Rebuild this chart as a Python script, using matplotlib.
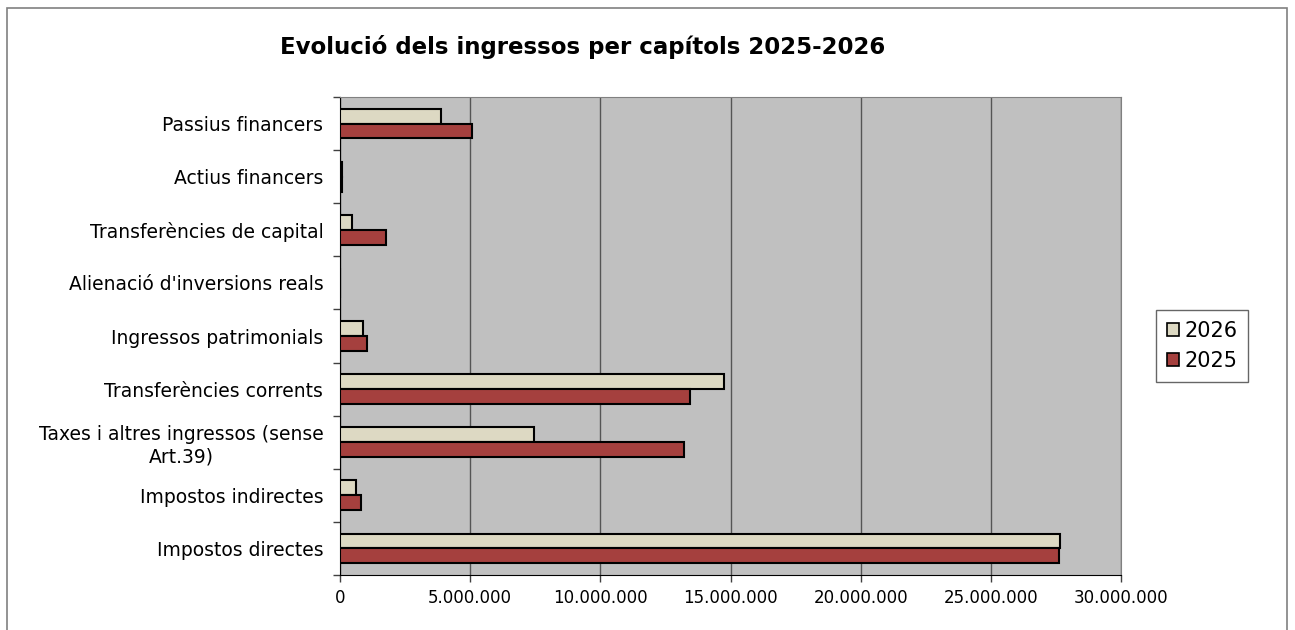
import numpy as np
import matplotlib.pyplot as plt
from matplotlib.patches import Rectangle
from matplotlib.ticker import FuncFormatter, FixedLocator

categories = [
    "Impostos directes",
    "Impostos indirectes",
    "Taxes i altres ingressos (sense\nArt.39)",
    "Transferències corrents",
    "Ingressos patrimonials",
    "Alienació d'inversions reals",
    "Transferències de capital",
    "Actius financers",
    "Passius financers",
]
values_2026 = [27660000, 630000, 7450000, 14750000, 880000, 0, 460000, 80000, 3880000]
values_2025 = [27620000, 810000, 13200000, 13450000, 1040000, 0, 1770000, 80000, 5070000]

COLOR_2026 = "#DDD9C3"
COLOR_2025 = "#A5403E"

fig = plt.figure(figsize=(12.95, 6.3), dpi=100)
ax = fig.add_axes([340 / 1295, 1 - 575 / 630, (1121 - 340) / 1295, (575 - 97) / 630])

# outer chart frame
fig.patches.append(Rectangle((7 / 1295, -0.01), 1280 / 1295, 1 - 8 / 630 + 0.01,
                             transform=fig.transFigure, fill=False,
                             edgecolor="#808080", linewidth=1.2))

y = np.arange(len(categories))
h = 0.28
ax.barh(y + h / 2, values_2026, height=h, color=COLOR_2026, edgecolor="black",
        linewidth=1.5, label="2026", zorder=3)
ax.barh(y - h / 2, values_2025, height=h, color=COLOR_2025, edgecolor="black",
        linewidth=1.5, label="2025", zorder=3)

ax.set_facecolor("#C0C0C0")
ax.set_xlim(0, 30000000)
ax.set_ylim(-0.5, len(categories) - 0.5)
ax.set_xticks(np.arange(0, 30000001, 5000000))
ax.xaxis.set_major_formatter(FuncFormatter(lambda v, p: f"{int(v):,}".replace(",", ".")))
ax.grid(axis="x", color="#555555", linewidth=1.0, zorder=0)

ax.set_yticks(y)
ax.set_yticklabels(categories, multialignment="center")
ax.yaxis.set_minor_locator(FixedLocator(np.arange(-0.5, len(categories), 1)))
ax.tick_params(axis="y", which="major", length=0, pad=12, labelsize=13.5)
ax.tick_params(axis="y", which="minor", length=5, width=1, color="#404040")
ax.tick_params(axis="x", length=5, width=1, color="#404040", labelsize=12, pad=5)

for side in ["top", "right"]:
    ax.spines[side].set_color("#808080")
for side in ["left", "bottom"]:
    ax.spines[side].set_color("black")

fig.text(583 / 1295, 1 - 47 / 630, "Evolució dels ingressos per capítols 2025-2026",
         ha="center", va="center", fontsize=16.5, fontweight="bold")

leg = fig.legend(loc="center", bbox_to_anchor=(1202 / 1295, 1 - 346 / 630),
                 fontsize=15, frameon=True, fancybox=False, edgecolor="#404040",
                 handlelength=0.6, handleheight=0.6, handletextpad=0.25,
                 labelspacing=0.5, borderpad=0.5)
leg.get_frame().set_linewidth(1.0)
for patch in leg.get_patches():
    patch.set_linewidth(1.2)

fig.savefig("out.png", dpi=100, facecolor="white")
